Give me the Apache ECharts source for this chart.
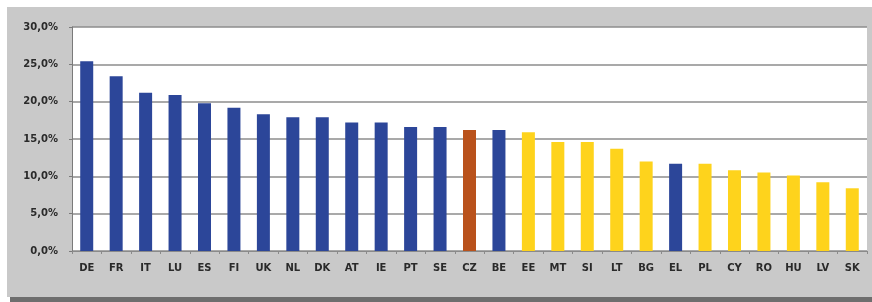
<!DOCTYPE html>
<html>
<head>
<meta charset="utf-8">
<script src="https://cdn.jsdelivr.net/npm/echarts@6/dist/echarts.min.js"></script>
<style>
  html, body { margin: 0; padding: 0; background: #fff; }
  #chart { width: 872px; height: 302px; }
</style>
</head>
<body>
<div id="chart"></div>
<script>
// country codes, in the order shown
var countries = ['DE','FR','IT','LU','ES','FI','UK','NL','DK','AT','IE','PT','SE','CZ','BE',
                 'EE','MT','SI','LT','BG','EL','PL','CY','RO','HU','LV','SK'];
// share in %
var shares = [25.4, 23.4, 21.2, 20.9, 19.8, 19.2, 18.3, 17.9, 17.9, 17.2, 17.2, 16.6, 16.6, 16.2, 16.2,
              15.9, 14.6, 14.6, 13.7, 12.0, 11.7, 11.7, 10.8, 10.5, 10.1, 9.2, 8.4];
// newer member states (yellow bars)
var newMembers = ['EE','MT','SI','LT','BG','PL','CY','RO','HU','LV','SK'];
var highlight = 'CZ';
var yTicks = [0, 5, 10, 15, 20, 25, 30];

var BLUE = '#2c4699', YELLOW = '#fed31c', ORANGE = '#b9521c';

function barColor(code) {
  if (code === highlight) return ORANGE;
  if (newMembers.indexOf(code) >= 0) return YELLOW;
  return BLUE;
}

//每根柱子单独上色
var barData = countries.map(function (c, i) {
  return { value: shares[i], itemStyle: { color: barColor(c) } };
});

var labelFont = { fontFamily: 'DejaVu Sans', fontWeight: 'bold', fontSize: 10, color: '#2a2a2a' };

var chart = echarts.init(document.getElementById('chart'));
chart.setOption({
  animation: false,
  backgroundColor: '#fff',
  graphic: [
    // shadow under the frame
    { type: 'rect', z: -20, shape: { x: 10, y: 296, width: 862, height: 6 }, style: { fill: '#6e6e6e' } },
    // grey frame
    { type: 'rect', z: -10, shape: { x: 7, y: 7, width: 865, height: 290 }, style: { fill: '#c9c9c9' } }
  ],
  grid: {
    left: 72, right: 5, top: 27, bottom: 51,
    show: true, backgroundColor: '#fff', borderWidth: 0
  },
  xAxis: {
    type: 'category',
    data: countries,
    axisLine: { lineStyle: { color: '#8a8a8a', width: 1 } },
    axisTick: { show: true, length: 3, lineStyle: { color: '#8a8a8a' } },
    axisLabel: Object.assign({ margin: 12, interval: 0 }, labelFont)
  },
  yAxis: {
    type: 'value',
    min: yTicks[0],
    max: yTicks[yTicks.length - 1],
    interval: yTicks[1] - yTicks[0],
    axisLine: { show: true, lineStyle: { color: '#7a7a7a', width: 1 } },
    axisTick: { show: true, length: 3, lineStyle: { color: '#7a7a7a' } },
    splitLine: { lineStyle: { color: '#8c8c8c', width: 1.6 } },
    axisLabel: Object.assign({
      margin: 14,
      formatter: function (v) { return v.toFixed(1).replace('.', ',') + '%'; }
    }, labelFont)
  },
  series: [{
    type: 'bar',
    data: barData,
    barWidth: 13
  }]
});
</script>
</body>
</html>
